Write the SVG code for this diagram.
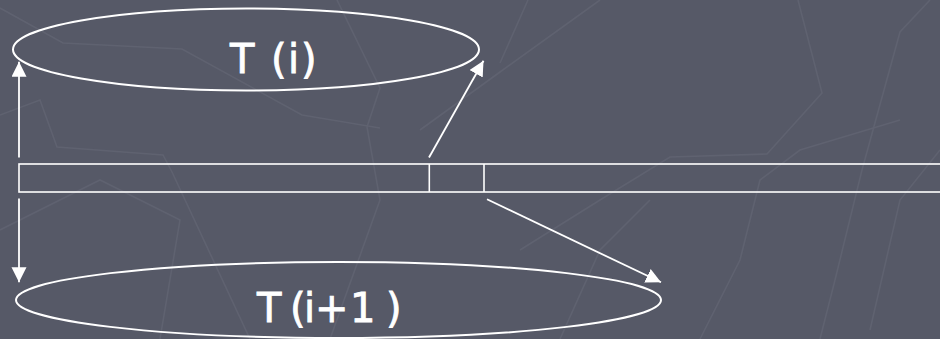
<svg xmlns="http://www.w3.org/2000/svg" width="940" height="339" viewBox="0 0 940 339">
<style>
.bg{fill:#565967}
.tex{fill:none;stroke:#5f6270;stroke-width:1.6}
.shape{fill:none;stroke:#ffffff;stroke-width:2}
.bar{fill:none;stroke:#ffffff;stroke-width:1.6}
.conn{fill:none;stroke:#ffffff;stroke-width:1.8}
.lbl{fill:#ffffff;font-family:"DejaVu Sans","Liberation Sans",sans-serif;font-size:40px;stroke:#ffffff;stroke-width:0.8}
</style>
<defs>
<marker id="ah" markerUnits="userSpaceOnUse" markerWidth="18" markerHeight="16" refX="15" refY="7.5" orient="auto">
<path d="M0,0 L15,7.5 L0,15 Z" fill="#ffffff"/>
</marker>
</defs>
<rect class="bg" x="0" y="0" width="940" height="339"/>
<g id="texture">
<polyline class="tex" points="0,8 63,43 182,49 302,115 380,128"/>
<polyline class="tex" points="337,0 380,88 367,127 380,200 330,339"/>
<polyline class="tex" points="0,115 40,100 57,147 163,155 172,172 250,339"/>
<polyline class="tex" points="528,0 500,63"/>
<polyline class="tex" points="600,0 500,72 420,130"/>
<polyline class="tex" points="798,0 822,93 767,154 670,157 600,200 520,250"/>
<polyline class="tex" points="930,0 900,32 862,170 835,280 820,339"/>
<polyline class="tex" points="940,150 900,200 870,330"/>
<polyline class="tex" points="0,230 100,180 180,220 160,339"/>
<polyline class="tex" points="700,339 740,260 760,180 800,150 900,120"/>
<polyline class="tex" points="560,339 600,250 650,200"/>
</g>
<g id="node-ti">
<ellipse class="shape" cx="246" cy="49.5" rx="233" ry="41"/>
<text class="lbl" y="73"><tspan x="230">T</tspan><tspan x="271">(</tspan><tspan x="288">i</tspan><tspan x="301">)</tspan></text>
</g>
<g id="node-ti1">
<ellipse class="shape" cx="338.5" cy="300" rx="322.5" ry="38"/>
<text class="lbl" y="322"><tspan x="257">T</tspan><tspan x="290">(</tspan><tspan x="304">i</tspan><tspan x="315">+</tspan><tspan x="350">1</tspan><tspan x="386">)</tspan></text>
</g>
<g id="node-array">
<rect class="bar" x="19" y="164" width="930" height="28"/>
<line class="bar" x1="429.3" y1="164" x2="429.3" y2="192"/>
<line class="bar" x1="484" y1="164" x2="484" y2="192"/>
</g>
<g id="connectors">
<line class="conn" x1="19" y1="157.5" x2="19" y2="61.7" marker-end="url(#ah)"/>
<line class="conn" x1="19" y1="198.5" x2="19" y2="282.3" marker-end="url(#ah)"/>
<line class="conn" x1="429" y1="157.5" x2="483.5" y2="60.7" marker-end="url(#ah)"/>
<line class="conn" x1="487" y1="199.3" x2="661" y2="282.3" marker-end="url(#ah)"/>
</g>
</svg>
